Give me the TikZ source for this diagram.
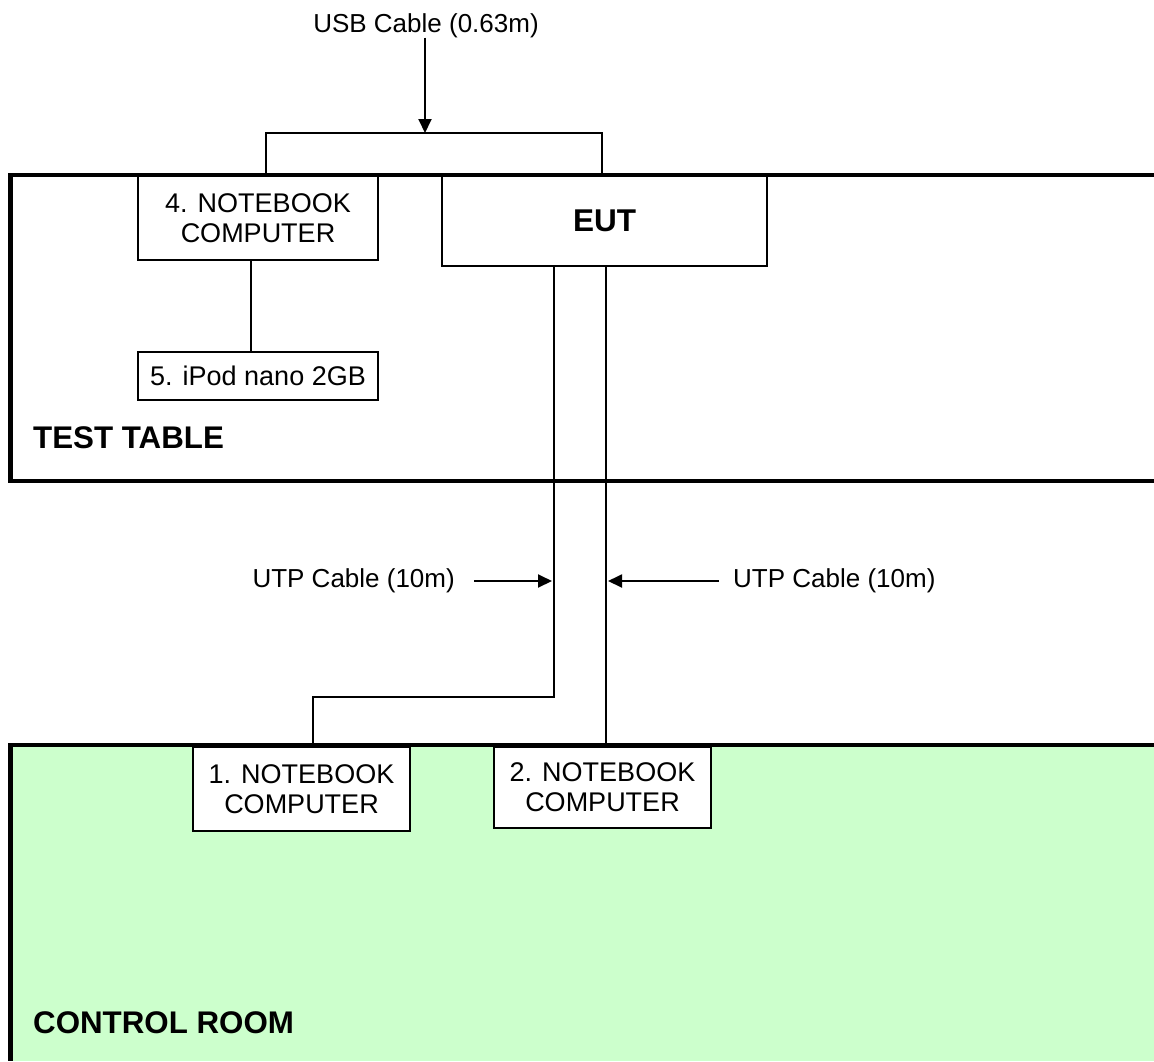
\documentclass[tikz,border=0pt]{standalone}
\usepackage{fontspec}
\setmainfont{Liberation Sans}
\usetikzlibrary{arrows.meta,calc}
\definecolor{roomgreen}{HTML}{CCFFCC}
\begin{document}
\begin{tikzpicture}[x=1pt,y=-1pt,
  devbox/.style={draw,fill=white,line width=1.9pt,inner sep=0pt,align=center,font=\fontsize{27}{30}\selectfont},
  wire/.style={line width=1.9pt},
  border/.style={line width=4.6pt},
  lbl/.style={inner sep=0pt,font=\fontsize{26}{30}\selectfont},
  arr/.style={wire,-{Triangle[length=14pt,width=13pt]}},
  room/.style={inner sep=0pt,anchor=base west,font=\bfseries\fontsize{31.3}{35}\selectfont}]
\useasboundingbox (0,0) rectangle (1154,1061);
\fill[roomgreen] (10.5,745) rectangle (1154,1061);

% devices
\node[devbox,minimum width=240pt,minimum height=84pt] (nb4) at (258,218) {4. NOTEBOOK\\COMPUTER};
\node[devbox,minimum width=325pt,minimum height=90pt,font=\bfseries\fontsize{31.5}{35}\selectfont] (eut) at (604.5,221) {EUT};
\node[devbox,minimum width=240pt,minimum height=48pt] (ipod) at (258,376) {5. iPod nano 2GB};
\node[devbox,minimum width=217pt,minimum height=84pt] (nb1) at (301.5,789) {1. NOTEBOOK\\COMPUTER};
\node[devbox,minimum width=217pt,minimum height=81pt] (nb2) at (602.5,787.5) {2. NOTEBOOK\\COMPUTER};

% room borders
\draw[border] (1154,745) -- (10.5,745) -- (10.5,1061);
\draw[border] (1154,175) -- (10.5,175) -- (10.5,481) -- (1154,481);

% room labels
\node[room] (tt) at (33,448) {TEST TABLE};
\node[room] (cr) at (33,1033) {CONTROL ROOM};

% USB cable
\node[lbl,anchor=base] (usb) at (426,32) {USB Cable (0.63m)};
\coordinate (c266) at (266,133);
\coordinate (c602) at (602,133);
\coordinate (usbhit) at (425,133);
\draw[wire] (c266 |- nb4.north) -- (c266) -- (c602) -- (c602 |- eut.north);
\draw[arr] (usb.south -| usbhit) -- (usbhit);

% notebook 4 to iPod
\coordinate (c251) at (251,300);
\draw[wire] (c251 |- nb4.south) -- (c251 |- ipod.north);

% UTP cables
\coordinate (e1) at (554,697);
\coordinate (e1b) at (313,697);
\coordinate (e2) at (606,600);
\draw[wire] (e1 |- eut.south) -- (e1) -- (e1b) -- (e1b |- nb1.north);
\draw[wire] (e2 |- eut.south) -- (e2 |- nb2.north);

\coordinate (ul) at (552,581);
\coordinate (ur) at (608,581);
\node[lbl,anchor=east] (utpl) at (455,581) {UTP Cable (10m)};
\node[lbl,anchor=west] (utpr) at (733,581) {UTP Cable (10m)};
\draw[arr] ($(utpl.east)+(19,0)$) -- (ul);
\draw[arr] ($(utpr.west)+(-14,0)$) -- (ur);
\end{tikzpicture}
\end{document}
